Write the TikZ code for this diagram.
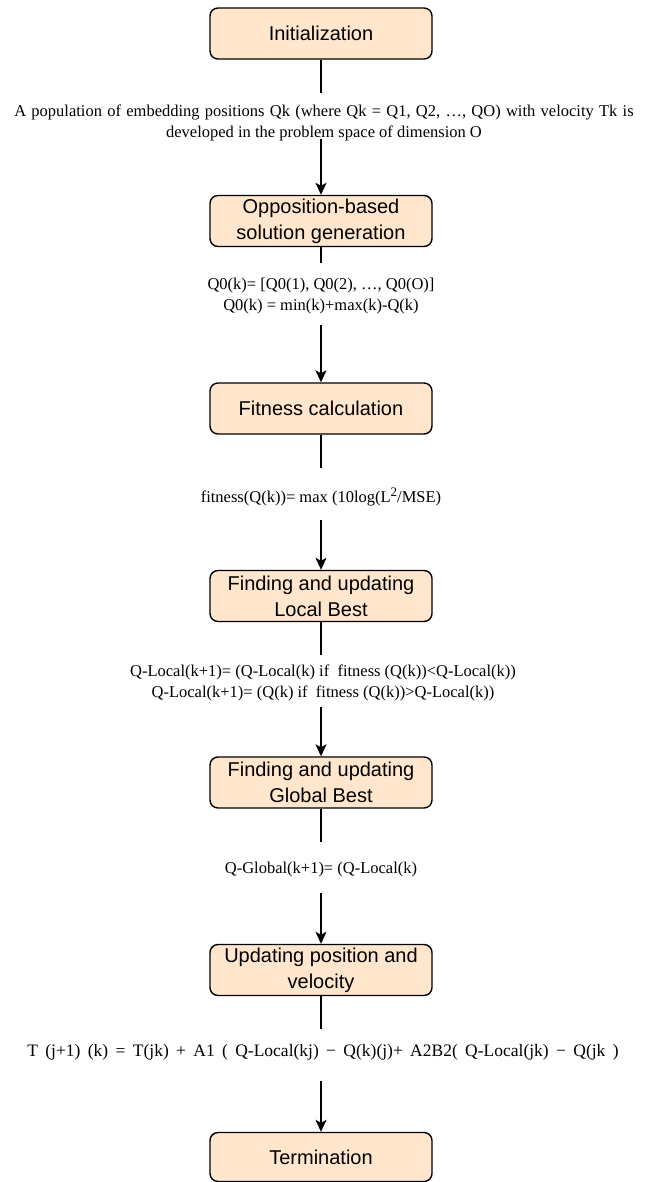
\documentclass[tikz,border=0pt]{standalone}
\usepackage{fontspec}
\setmainfont{Liberation Serif}
\newfontfamily\boxfont{Liberation Sans}
\usetikzlibrary{arrows.meta}
\definecolor{stagefill}{HTML}{FFE6CC}

\begin{document}
\begin{tikzpicture}
    [
    x=1pt, y=-1pt,
    stage/.style={rectangle,draw,rounded corners=8pt,line width=1.4pt,fill=stagefill,minimum width=222pt,minimum height=51pt,inner sep=2pt,align=center,font=\boxfont\fontsize{20}{26}\selectfont},
    formula/.style={align=center,inner sep=0pt,font=\fontsize{16.5}{21}\selectfont},
    link/.style={line width=1.3pt},
    flow/.style={line width=1.3pt,-{Stealth[length=12pt,width=11pt,inset=3pt]}}
    ]
    \useasboundingbox (0,0) rectangle (646,1182);

    \node (init) at (321,33.5) [stage] {Initialization};
    \coordinate (c1) at (321,93);
    \node (f1) at (324,122.5) [formula] {\spaceskip=0.32em A population of embedding positions Qk (where Qk = Q1, Q2, …, QO) with velocity Tk is\\developed in the problem space of dimension O};
    \coordinate (d1) at (321,139);
    \draw [link] (init) -- (c1);

    \node (opp) at (321,221) [stage] {Opposition-based\\solution generation};
    \coordinate (c2) at (321,263);
    \node (f2) at (321,296.5) [formula] {Q0(k)= [Q0(1), Q0(2), …, Q0(O)]\\Q0(k) = min(k)+max(k)-Q(k)};
    \coordinate (d2) at (321,325);
    \draw [link] (opp) -- (c2);
    \draw [flow] (d1) -- (opp);

    \node (fit) at (321,408.5) [stage] {Fitness calculation};
    \coordinate (c3) at (321,468);
    \node (f3) at (321,497) [formula] {fitness(Q(k))= max (10log(L\raisebox{6pt}{\fontsize{13}{13}\selectfont 2}/MSE)};
    \coordinate (d3) at (321,520);
    \draw [link] (fit) -- (c3);
    \draw [flow] (d2) -- (fit);

    \node (local) at (321,596) [stage] {Finding and updating\\Local Best};
    \coordinate (c4) at (321,655);
    \node (f4) at (323,682.5) [formula] {Q-Local(k+1)= (Q-Local(k) if~ fitness (Q(k))<Q-Local(k))\\Q-Local(k+1)= (Q(k) if~ fitness (Q(k))>Q-Local(k))};
    \coordinate (d4) at (321,707);
    \draw [link] (local) -- (c4);
    \draw [flow] (d3) -- (local);

    \node (global) at (321,782.5) [stage] {Finding and updating\\Global Best};
    \coordinate (c5) at (321,842);
    \node (f5) at (321,870) [formula] {Q-Global(k+1)= (Q-Local(k)};
    \coordinate (d5) at (321,893);
    \draw [link] (global) -- (c5);
    \draw [flow] (d4) -- (global);

    \node (update) at (321,970) [stage] {Updating position and\\velocity};
    \coordinate (c6) at (321,1029);
    \node (f6) at (323,1052) [formula,font=\fontsize{17.5}{21}\selectfont] {\spaceskip=0.42em T (j+1) (k) = T(jk) + A1 ( Q-Local(kj) − Q(k)(j)+ A2B2( Q-Local(jk) − Q(jk )};
    \coordinate (d6) at (321,1081);
    \draw [link] (update) -- (c6);
    \draw [flow] (d5) -- (update);

    \node (term) at (321,1157) [stage,minimum height=49pt] {Termination};
    \draw [flow] (d6) -- (term);
\end{tikzpicture}
\end{document}
